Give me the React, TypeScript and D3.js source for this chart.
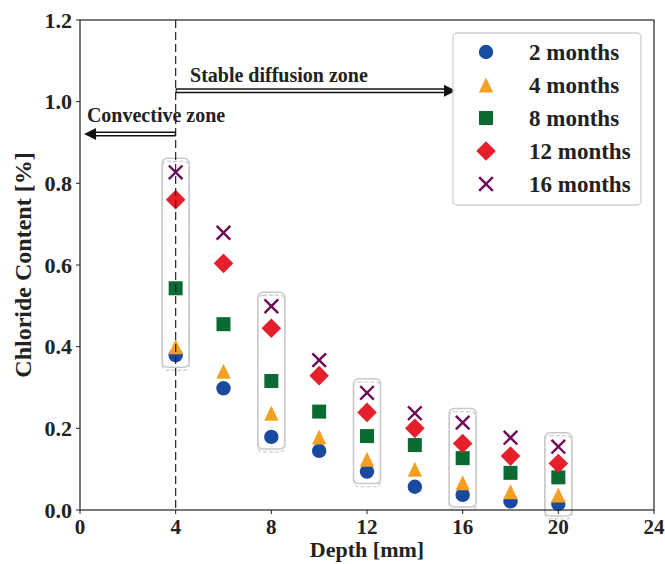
import React from "react";
import * as d3 from "d3";

const depths = [4, 6, 8, 10, 12, 14, 16, 18, 20];
const m2 = [0.379, 0.298, 0.179, 0.145, 0.094, 0.057, 0.037, 0.021, 0.015];
const m4 = [0.4, 0.34, 0.237, 0.179, 0.124, 0.1, 0.067, 0.045, 0.037];
const m8 = [0.543, 0.455, 0.316, 0.241, 0.181, 0.159, 0.127, 0.091, 0.08];
const m12 = [0.76, 0.604, 0.445, 0.329, 0.239, 0.2, 0.163, 0.132, 0.114];
const m16 = [0.827, 0.679, 0.499, 0.367, 0.287, 0.237, 0.214, 0.177, 0.155];

const seriesNames = ["2 months", "4 months", "8 months", "12 months", "16 months"];
const seriesValues = [m2, m4, m8, m12, m16];
const seriesMarkers = ["circle", "triangle", "square", "diamond", "cross"];
const seriesColors = ["#1a4a9e", "#f5a023", "#0b6a32", "#e51f2b", "#6c0b55"];

const xTicks = [0, 4, 8, 12, 16, 20, 24];
const yTicks = [0, 0.2, 0.4, 0.6, 0.8, 1.0, 1.2];
const boxDepths = [4, 8, 12, 16, 20];
const zoneBoundary = 4;
const stableArrow = { from: 4, to: 15.72, y: 1.027, label: "Stable diffusion zone", lx: 4.6, ly: 1.049 };
const convArrow = { from: 4, to: 0.17, y: 0.921, label: "Convective zone", lx: 0.29, ly: 0.949 };

const W = 665, H = 564;
const L = 80, R = 654, T = 20, B = 510;
const FONT = "'Liberation Serif', 'Times New Roman', serif";

function Marker({ type, x, y, color }: { type: string; x: number; y: number; color: string }) {
  if (type === "circle") return <circle cx={x} cy={y} r={7.2} fill={color} />;
  if (type === "square") return <rect x={x - 7} y={y - 7} width={14} height={14} fill={color} />;
  if (type === "triangle")
    return <polygon points={`${x},${y - 7.5} ${x - 7.2},${y + 7.5} ${x + 7.2},${y + 7.5}`} fill={color} />;
  if (type === "diamond")
    return <polygon points={`${x},${y - 9.8} ${x + 9.8},${y} ${x},${y + 9.8} ${x - 9.8},${y}`} fill={color} />;
  return (
    <g stroke={color} strokeWidth={2.4}>
      <line x1={x - 6.8} y1={y - 6.8} x2={x + 6.8} y2={y + 6.8} />
      <line x1={x - 6.8} y1={y + 6.8} x2={x + 6.8} y2={y - 6.8} />
    </g>
  );
}

function DoubleArrow({ x1, x2, y }: { x1: number; x2: number; y: number }) {
  const dir = Math.sign(x2 - x1);
  const headLen = 12;
  const base = x2 - dir * headLen;
  return (
    <g>
      <line x1={x1} y1={y} x2={base + dir * 1} y2={y} stroke="#111" strokeWidth={5} />
      <line x1={x1 + dir * 1} y1={y} x2={base + dir * 2} y2={y} stroke="#fff" strokeWidth={2} />
      <polygon points={`${x2},${y} ${base},${y - 6} ${base},${y + 6}`} fill="#111" />
    </g>
  );
}

export default function App() {
  const x = d3.scaleLinear().domain([0, 24]).range([L, R]);
  const y = d3.scaleLinear().domain([0, 1.2]).range([B, T]);

  const boxes = boxDepths.map((d) => {
    const i = depths.indexOf(d);
    const vals = seriesValues.map((s) => s[i]);
    const top = y(d3.max(vals) as number) - 14;
    const bot = y(d3.min(vals) as number) + 12;
    return { cx: x(d), top, bot };
  });

  return (
    <svg width={W} height={H} style={{ position: "absolute", left: 0, top: 0, background: "#fff" }} fontFamily={FONT}>
      <rect x={0} y={0} width={W} height={H} fill="#fff" />
      {boxes.map((b, i) => (
        <g key={i} fill="none">
          <rect x={b.cx - 13.5} y={b.top + 3} width={27} height={b.bot - b.top} rx={5} stroke="#cfcfcf" strokeWidth={1.3} strokeDasharray="4,2" />
          <rect x={b.cx - 13.5} y={b.top} width={27} height={b.bot - b.top} rx={5} stroke="#c8c8c8" strokeWidth={1.5} />
        </g>
      ))}
      {seriesValues.map((vals, si) => (
        <g key={si}>
          {vals.map((v, i) => (
            <Marker key={i} type={seriesMarkers[si]} x={x(depths[i])} y={y(v)} color={seriesColors[si]} />
          ))}
        </g>
      ))}
      <line x1={x(zoneBoundary)} x2={x(zoneBoundary)} y1={T} y2={B} stroke="#222" strokeWidth={1.2} strokeDasharray="8,4" />
      <DoubleArrow x1={x(stableArrow.from)} x2={x(stableArrow.to)} y={y(stableArrow.y)} />
      <DoubleArrow x1={x(convArrow.from)} x2={x(convArrow.to)} y={y(convArrow.y)} />
      <text x={x(stableArrow.lx)} y={y(stableArrow.ly)} fontSize={20} fontWeight="bold" fill="#222">{stableArrow.label}</text>
      <text x={x(convArrow.lx)} y={y(convArrow.ly)} fontSize={20} fontWeight="bold" fill="#222">{convArrow.label}</text>
      <rect x={L} y={T} width={R - L} height={B - T} fill="none" stroke="#222" strokeWidth={1.2} />
      {xTicks.map((t) => (
        <g key={t}>
          <line x1={x(t)} x2={x(t)} y1={B} y2={B + 4} stroke="#222" strokeWidth={1} />
          <text x={x(t)} y={B + 24} textAnchor="middle" fontSize={21} fontWeight="bold" fill="#222">{t}</text>
        </g>
      ))}
      {yTicks.map((t) => (
        <g key={t}>
          <line x1={L - 4} x2={L} y1={y(t)} y2={y(t)} stroke="#222" strokeWidth={1} />
          <text x={L - 8} y={y(t) + 7.5} textAnchor="end" fontSize={22} fontWeight="bold" fill="#222">{t.toFixed(1)}</text>
        </g>
      ))}
      <text x={(L + R) / 2} y={557} textAnchor="middle" fontSize={22} fontWeight="bold" fill="#222">Depth [mm]</text>
      <text transform={`translate(31,${(T + B) / 2}) rotate(-90)`} textAnchor="middle" fontSize={24} fontWeight="bold" fill="#222">Chloride Content [%]</text>
      <rect x={453} y={33} width={188} height={172} rx={4} fill="#fff" fillOpacity={0.85} stroke="#d0d0d0" strokeWidth={1.3} />
      {seriesNames.map((n, i) => (
        <g key={n}>
          <Marker type={seriesMarkers[i]} x={486} y={52 + i * 33} color={seriesColors[i]} />
          <text x={529} y={52 + i * 33 + 7.5} fontSize={23} fontWeight="bold" fill="#222">{n}</text>
        </g>
      ))}
    </svg>
  );
}
